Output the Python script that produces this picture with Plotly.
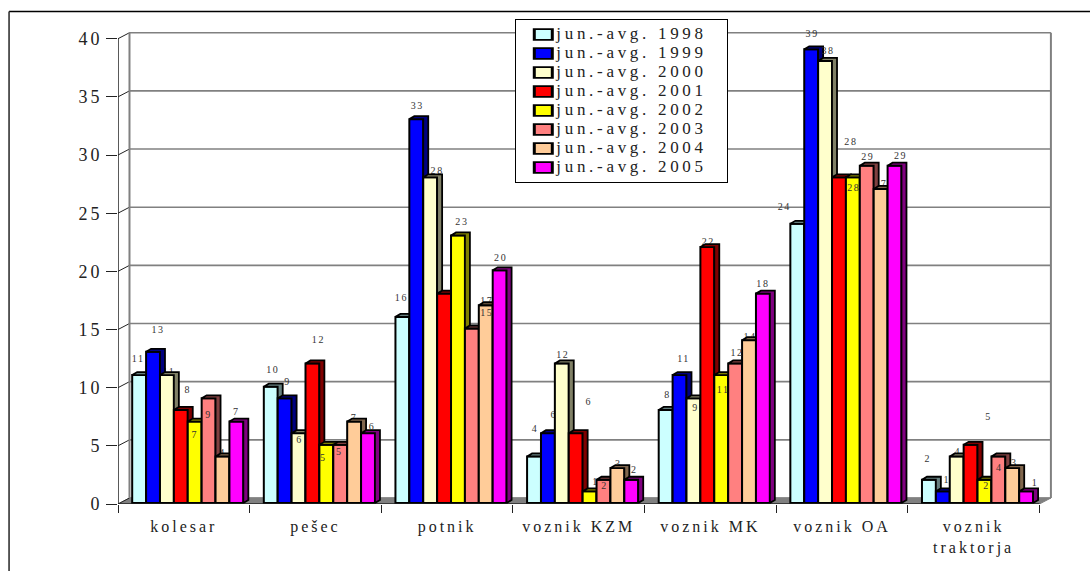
import plotly.graph_objects as go

categories = ["kolesar", "pešec", "potnik", "voznik KZM", "voznik MK", "voznik OA", "voznik<br>traktorja"]
series_names = ["jun.-avg. 1998", "jun.-avg. 1999", "jun.-avg. 2000", "jun.-avg. 2001",
                "jun.-avg. 2002", "jun.-avg. 2003", "jun.-avg. 2004", "jun.-avg. 2005"]
v1998 = [11, 10, 16, 4, 8, 24, 2]
v1999 = [13, 9, 33, 6, 11, 39, 1]
v2000 = [11, 6, 28, 12, 9, 38, 4]
v2001 = [8, 12, 18, 6, 22, 28, 5]
v2002 = [7, 5, 23, 1, 11, 28, 2]
v2003 = [9, 5, 15, 2, 12, 29, 4]
v2004 = [4, 7, 17, 3, 14, 27, 3]
v2005 = [7, 6, 20, 2, 18, 29, 1]
series_values = [v1998, v1999, v2000, v2001, v2002, v2003, v2004, v2005]
y_ticks = [0, 5, 10, 15, 20, 25, 30, 35, 40]

colors = ["#CCFFFF", "#0000FF", "#FFFFCC", "#FF0000", "#FFFF00", "#FF8080", "#FFCC99", "#FF00FF"]
dark = ["#668080", "#000080", "#808066", "#800000", "#808000", "#804040", "#80664D", "#800080"]

# label nudges in pixels from the bar top centre: [category][series]
label_dx = [[-1, 5, 2, 7, 0, 0, 0, 0], [2, 3, 1, 6, -3, -1, 0, 4], [-1, 1, 7, -2, 4, 15, 1, 1],
            [1, 6, 1, 13, 6, 1, 1, 3], [2, 4, 2, 1, 2, 2, 1, 0], [-13, 1, 3, 12, 1, 1, 0, 6],
            [-1, 4, 1, 18, 2, 1, 2, 9]]
label_dy = [[16, 21, 3, 19, -14, -17, 3, 9], [16, 16, -7, 23, -14, -8, 3, 6], [18, 13, 6, -33, 13, 15, 4, 12],
            [27, 18, 8, 31, 9, -7, 4, 9], [14, 16, -10, 5, -15, 10, 3, 9], [16, 15, 9, 35, -11, 8, 4, 9],
            [20, 11, 4, 27, -7, -12, 5, 8]]
behind = {(0, 2), (0, 6), (1, 6), (2, 2), (2, 3), (2, 6), (3, 1), (3, 4), (3, 6), (4, 3), (4, 6), (5, 1), (5, 6),
          (6, 2), (6, 6)}

# pixel scales
X0, Y0 = 117.5, 503.7
PX = 131.7          # per category
PY = 11.625         # per unit
W, H = 1090, 571
RIGHT, TOP = 1062, 24
x_max = (RIGHT - X0) / PX
y_max = (Y0 - TOP) / PY
bw = 13.9 / PX
start = 14.2 / PX
lift = 1.0 / PY
ddx, ddy = 5 / PX, 3 / PY
wx, wy = 11.5 / PX, 6 / PY
n_cat = len(categories)
cat_x = list(range(n_cat))

fig = go.Figure()

for s, vals in enumerate(series_values):
    # depth faces (side + top)
    xs, ys = [], []
    for c, v in zip(cat_x, vals):
        x0 = c + start + s * bw
        x1 = x0 + bw
        t = v + lift
        xs += [x0, x0 + ddx, x1 + ddx, x1 + ddx, x1, x1, x0, None]
        ys += [t, t + ddy, t + ddy, lift + ddy, lift, t, t, None]
    fig.add_trace(go.Scatter(x=xs, y=ys, mode="lines", fill="toself", fillcolor=dark[s],
                             line=dict(color="black", width=1.8), showlegend=False,
                             hoverinfo="skip", zorder=s + 1))
    fig.add_trace(go.Bar(x=[c + start + (s + 0.5) * bw for c in cat_x], y=vals, base=lift, width=bw,
                         name=series_names[s], marker=dict(color=colors[s], line=dict(color="black", width=2)),
                         zorder=s + 1))

# data labels
for layer, z in (("back", 0), ("front", 20)):
    xs, ys, ts = [], [], []
    for s, vals in enumerate(series_values):
        for c, v in zip(cat_x, vals):
            if ((c, s) in behind) != (layer == "back"):
                continue
            xs.append(c + start + (s + 0.5) * bw + label_dx[c][s] / PX)
            ys.append(v + lift + label_dy[c][s] / PY)
            ts.append(str(v))
    fig.add_trace(go.Scatter(x=xs, y=ys, text=ts, mode="text", textposition="middle center",
                             textfont=dict(family="Liberation Serif", size=10, color="#333333"),
                             showlegend=False, hoverinfo="skip", zorder=z))

# axis lines
fig.add_trace(go.Scatter(x=[0, 0, None, 0, n_cat], y=[0, 40, None, 0, 0], mode="lines",
                         line=dict(color="#222222", width=1.5), showlegend=False, hoverinfo="skip", zorder=21))

GRAY = "#808080"
shapes = []
# floor
shapes.append(dict(type="path", xref="x", yref="y", layer="below", fillcolor=GRAY, line=dict(color=GRAY, width=1),
                   path=f"M0,0 L{wx},{wy} L{n_cat + wx},{wy} L{n_cat},0 Z"))
for v in y_ticks:
    shapes.append(dict(type="line", xref="x", yref="y", layer="below", x0=wx, x1=n_cat + wx, y0=v + wy, y1=v + wy,
                       line=dict(color=GRAY, width=1.6)))
    shapes.append(dict(type="line", xref="x", yref="y", layer="below", x0=0, x1=wx, y0=v, y1=v + wy,
                       line=dict(color="#222222", width=1)))
for xv in (wx, n_cat + wx):
    shapes.append(dict(type="line", xref="x", yref="y", layer="below", x0=xv, x1=xv, y0=wy, y1=40 + wy,
                       line=dict(color=GRAY, width=2)))
# outer frame: only the top and left edges are visible
ml, mr, mt, mb = X0, W - RIGHT, TOP, H - Y0
pw, ph = W - ml - mr, H - mt - mb
fx = lambda p: (p - ml) / pw
fy = lambda p: 1 - (p - mt) / ph
shapes.append(dict(type="line", xref="paper", yref="paper", layer="below", x0=fx(8.5), x1=fx(W), y0=fy(11.5), y1=fy(11.5),
                   line=dict(color="black", width=1.4)))
shapes.append(dict(type="line", xref="paper", yref="paper", layer="below", x0=fx(8.5), x1=fx(8.5), y0=fy(11.5), y1=fy(H),
                   line=dict(color="#333333", width=1.6)))

fig.update_layout(
    width=W, height=H, autosize=False, barmode="overlay", plot_bgcolor="white", paper_bgcolor="white",
    margin=dict(l=ml, r=mr, t=mt, b=mb, pad=0, autoexpand=False),
    font=dict(family="Liberation Serif", color="#222222"),
    shapes=shapes, hovermode=False,
    xaxis=dict(range=[0, x_max], tickmode="array", tickvals=[c + 0.5 for c in cat_x], ticktext=categories,
               ticks="", showgrid=False, zeroline=False, showline=False, ticklabelstandoff=11,
               tickfont=dict(size=16, family="Liberation Serif"),
               minor=dict(tickmode="array", tickvals=list(range(n_cat + 1)), ticks="outside", ticklen=8,
                          tickwidth=1, tickcolor="#222222", showgrid=False)),
    yaxis=dict(range=[0, y_max], tickmode="array", tickvals=y_ticks, ticks="outside", ticklen=11,
               tickwidth=1.2, tickcolor="#222222", showgrid=False, zeroline=False, showline=False,
               tickfont=dict(size=18, family="Liberation Serif")),
    legend=dict(x=fx(515), y=fy(19), xanchor="left", yanchor="top", bgcolor="white", bordercolor="black",
                borderwidth=1, font=dict(size=12, family="Liberation Serif"), tracegroupgap=0,
                itemclick=False, itemdoubleclick=False, indentation=0),
)

post = """
var st = document.createElement('style');
st.textContent = 'body{margin:0} .xtick text{letter-spacing:3px} .ytick text{letter-spacing:3px}'
 + ' .legendtext{letter-spacing:3.7px;font-size:17px !important}'
 + ' .textpoint text{letter-spacing:1.6px}'
 + ' .legend .scrollbox{clip-path:none !important}'
 + ' .legend .bg{width:212px}'
 + ' .legendpoints path{transform:translate(27px,0) scale(1.5,0.9)}';
document.head.appendChild(st);
"""
fig.write_html("out.html", post_script=post, config={"displayModeBar": False})
